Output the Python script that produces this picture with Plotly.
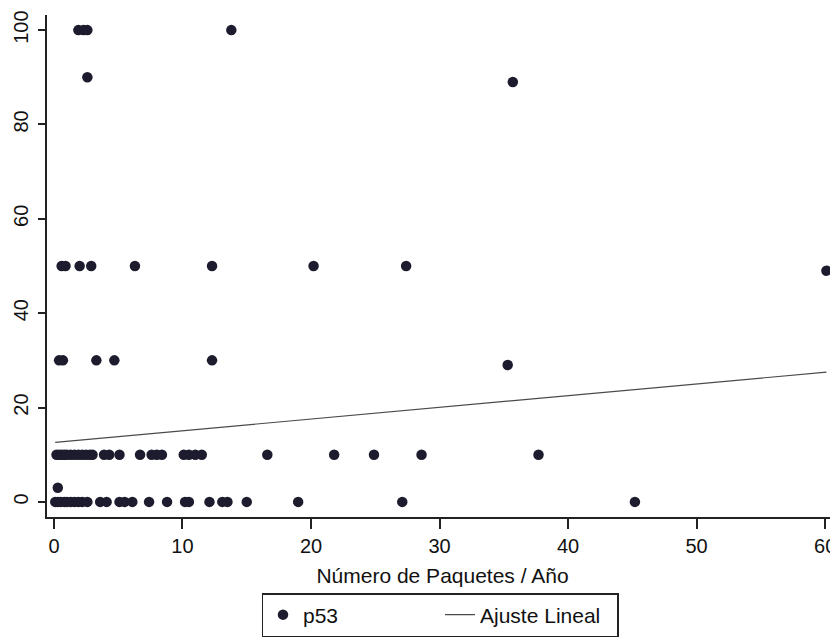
import plotly.graph_objects as go

# p53 scatter data (Número de Paquetes / Año vs p53)
x_y100 = [1.9, 2.3, 2.6, 13.8]
x_y90 = [2.6]
x_y89 = [35.7]
x_y50 = [0.6, 0.9, 2.0, 2.9, 6.3, 12.3, 20.2, 27.4]
x_y49 = [60.1]
x_y30 = [0.4, 0.7, 3.3, 4.7, 12.3]
x_y29 = [35.3]
x_y10 = [0.2, 0.4, 0.6, 0.8, 1.0, 1.3, 1.6, 1.9, 2.2, 2.5, 2.8, 3.0,
         3.9, 4.3, 5.1, 6.7, 7.6, 8.0, 8.4, 10.1, 10.5, 11.0, 11.5,
         16.6, 21.8, 24.9, 28.6, 37.7]
x_y3 = [0.3]
x_y0 = [0.1, 0.3, 0.5, 0.8, 1.0, 1.3, 1.6, 1.9, 2.2, 2.6, 3.6, 4.1,
        5.1, 5.5, 6.1, 7.4, 8.8, 10.2, 10.5, 12.1, 13.1, 13.5, 15.0,
        19.0, 27.1, 45.2]

groups = [(x_y100, 100), (x_y90, 90), (x_y89, 89), (x_y50, 50), (x_y49, 49),
          (x_y30, 30), (x_y29, 29), (x_y10, 10), (x_y3, 3), (x_y0, 0)]

xs, ys = [], []
for gx, gy in groups:
    xs += gx
    ys += [gy] * len(gx)

# Linear fit (Ajuste Lineal)
fit_intercept = 12.6
fit_slope = 0.248
fit_x = [min(xs), max(xs)]
fit_y = [fit_intercept + fit_slope * v for v in fit_x]

x_ticks = [0, 10, 20, 30, 40, 50, 60]
y_ticks = [0, 20, 40, 60, 80, 100]

font = "Liberation Sans, Arial, sans-serif"

# the page body has an 8px margin; the figure is sized to fill the rest
W, H = 830, 634

fig = go.Figure()
fig.add_trace(go.Scatter(
    x=xs, y=ys, mode="markers", name="p53",
    marker=dict(size=10.5, color="#1c1c2e", line=dict(width=0)),
))
fig.add_trace(go.Scatter(
    x=fit_x, y=fit_y, mode="lines", name="Ajuste Lineal",
    line=dict(color="#4a4a4a", width=1.2),
))

fig.update_layout(
    width=W, height=H,
    paper_bgcolor="white", plot_bgcolor="white",
    margin=dict(l=39, r=0, t=7, b=125),
    font=dict(family=font, size=21, color="#111111"),
    showlegend=True,
    legend=dict(
        orientation="h",
        xref="container", yref="container",
        x=432 / W, xanchor="center", y=1 - 585 / H, yanchor="top",
        bordercolor="#222222", borderwidth=1.5,
        font=dict(size=21, family=font),
        entrywidth=132, entrywidthmode="pixels",
        itemwidth=30,
    ),
    xaxis=dict(
        range=[-0.54, 61.0],
        tickvals=x_ticks,
        automargin=False,
        ticklabeloverflow="allow",
        ticks="outside", ticklen=10, tickwidth=1.5, tickcolor="#222",
        showline=True, linecolor="#222", linewidth=2,
        showgrid=False, zeroline=False,
        tickfont=dict(size=20),
        title=dict(text="Número de Paquetes / Año", standoff=12,
                   font=dict(size=21)),
    ),
    yaxis=dict(
        range=[-3.2, 103.2],
        tickvals=y_ticks,
        tickangle=-90,
        automargin=False,
        ticklabelstandoff=2,
        ticks="outside", ticklen=7, tickwidth=1.5, tickcolor="#222",
        showline=True, linecolor="#222", linewidth=2,
        showgrid=False, zeroline=False,
        tickfont=dict(size=20),
    ),
)

fig.write_html("out.html")
